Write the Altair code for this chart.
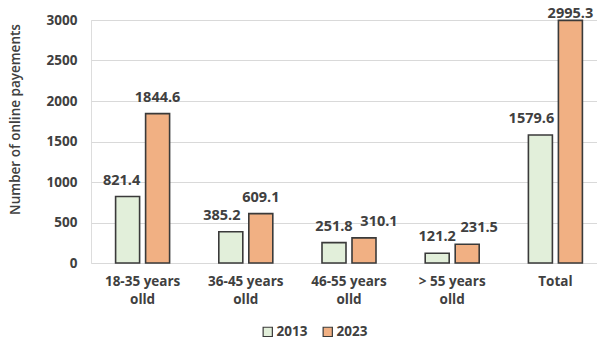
import altair as alt
import pandas as pd

# Age groups, years and counts of online payments
groups = ["18-35 years\nolld", "36-45 years\nolld", "46-55 years\nolld", "> 55 years\nolld", "Total"]
years = ["2013", "2023"]
values_2013 = [821.4, 385.2, 251.8, 121.2, 1579.6]
values_2023 = [1844.6, 609.1, 310.1, 231.5, 2995.3]
y_ticks = [0, 500, 1000, 1500, 2000, 2500, 3000]

rows = []
for g, v1, v2 in zip(groups, values_2013, values_2023):
    rows.append({"group": g, "year": years[0], "value": v1})
    rows.append({"group": g, "year": years[1], "value": v2})
df = pd.DataFrame(rows)

FONT = "Open Sans"
TXT = "#404040"

# horizontal nudges (px) for value labels that would otherwise collide
label_nudge = {
    (groups[0], "2013"): -6,
    (groups[1], "2013"): -9,
    (groups[4], "2013"): -9,
    (groups[2], "2023"): 15,
    (groups[3], "2023"): 12,
}
df["nudge"] = [label_nudge.get((g, y), 0) for g, y in zip(df["group"], df["year"])]

x_scale = alt.Scale(range=[0, 516], paddingInner=0, paddingOuter=0)
x_enc = alt.X(
    "group:N",
    sort=groups,
    title=None,
    scale=x_scale,
    axis=alt.Axis(
        labelExpr="split(datum.label, '\\n')",
        labelAngle=0,
        labelFont=FONT,
        labelFontWeight="bold",
        labelFontSize=13.5,
        labelColor=TXT,
        labelLineHeight=18,
        labelPadding=11,
        ticks=False,
        domain=False,
        grid=False,
    ),
)
xoff = alt.XOffset("year:N", sort=years,
                   scale=alt.Scale(paddingInner=0.2, paddingOuter=0.82))

bars = alt.Chart(df).mark_bar(stroke="#3a3a3a", strokeWidth=1.6).encode(
    x=x_enc,
    xOffset=xoff,
    y=alt.Y(
        "value:Q",
        scale=alt.Scale(domain=[0, 3000], nice=False),
        title="Number of online payements",
        axis=alt.Axis(
            values=y_ticks,
            format="d",
            labelFont=FONT,
            labelFontWeight="bold",
            labelFontSize=13.5,
            labelColor=TXT,
            labelPadding=14,
            ticks=False,
            domain=False,
            gridColor="#d9d9d9",
            gridWidth=1.2,
            titleFont=FONT,
            titleFontWeight=600,
            titleFontSize=13.5,
            titleColor=TXT,
            titleAngle=-90,
            titleX=-76,
            titleY=99,
            titleAlign="center",
            titleBaseline="middle",
        ),
    ),
    color=alt.Color(
        "year:N",
        sort=years,
        scale=alt.Scale(domain=years, range=["#e2efda", "#f1b083"]),
        legend=alt.Legend(
            title=None,
            orient="none",
            direction="horizontal",
            legendX=170,
            legendY=305,
            symbolType="square",
            symbolSize=85,
            symbolStrokeColor="#3a3a3a",
            symbolStrokeWidth=1.2,
            labelFont=FONT,
            labelFontWeight="bold",
            labelFontSize=13.5,
            labelColor=TXT,
            columnPadding=12,
            labelOffset=2,
        ),
    ),
)


def value_labels(nudge):
    # labels sit ~16px above their bar, kept just above the plot top
    return (
        alt.Chart(df)
        .transform_filter(alt.datum.nudge == nudge)
        .transform_calculate(label_y="min(datum.value + 197, 3068)")
        .mark_text(font=FONT, fontWeight="bold", fontSize=14.5, color=TXT,
                   baseline="middle", dx=nudge)
        .encode(
            x=alt.X("group:N", sort=groups, scale=x_scale),
            xOffset=xoff,
            y=alt.Y("label_y:Q"),
            text=alt.Text("value:Q", format=".1f"),
        )
    )


layers = [bars] + [value_labels(n) for n in sorted(set(df["nudge"]))]

chart = (
    alt.layer(*layers)
    .properties(
        width=506,
        height=243,
        autosize=alt.AutoSizeParams(type="none"),
        padding={"left": 91, "top": 20, "right": 0, "bottom": 77},
    )
    .configure_view(stroke=None)
    .configure(background="white")
)

chart.save("out.html", embed_options={"renderer": "svg", "actions": False})
